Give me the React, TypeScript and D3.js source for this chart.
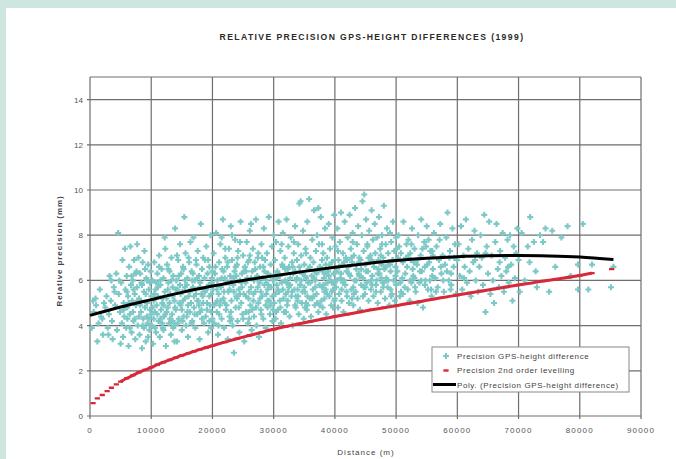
import React from "react";
import * as d3 from "d3";

const W = 676;
const H = 459;

const chartTitle = "RELATIVE PRECISION GPS-HEIGHT DIFFERENCES (1999)";
const xTitle = "Distance (m)";
const yTitle = "Relative precision (mm)";
const seriesNames = [
  "Precision GPS-height difference",
  "Precision 2nd order levelling",
  "Poly. (Precision GPS-height difference)",
];

const xTicks = [0, 10000, 20000, 30000, 40000, 50000, 60000, 70000, 80000, 90000];
const yTicks = [0, 2, 4, 6, 8, 10, 12, 14];

// GPS-height precision, pairs of [distance km, precision mm], grouped by distance band
const gps0to10 = [
  0.3,3.9, 0.6,4.6, 0.9,5.2, 1.2,3.3, 1.4,4.1, 1.6,5.6, 1.8,4.4, 2.1,3.6, 2.3,5.0, 2.5,4.8, 2.7,5.3, 2.9,3.9,
  3.1,4.5, 3.2,6.2, 3.4,5.1, 3.6,4.2, 3.7,3.4, 3.9,5.7, 4.1,4.9, 4.3,6.3, 4.4,3.8, 4.6,8.1, 4.7,5.4, 4.9,4.6,
  5.0,3.2, 1.0,4.9, 2.0,4.3, 3.0,3.6, 4.0,5.5, 4.8,6.0, 0.5,5.1, 3.5,6.0,
  5.1,5.9, 5.2,4.1, 5.3,6.9, 5.4,3.5, 5.5,5.0, 5.6,4.4, 5.7,7.4, 5.8,5.6, 5.9,3.9, 6.0,6.2, 6.1,4.8, 6.2,5.3,
  6.3,3.1, 6.4,6.6, 6.5,4.5, 6.6,7.5, 6.7,5.8, 6.8,3.7, 6.9,5.1, 7.0,6.0, 7.1,4.2, 7.2,6.9, 7.3,5.4, 7.4,3.4,
  7.5,4.9, 7.6,6.4, 7.7,5.7, 7.8,4.0, 7.9,7.0, 8.0,5.2, 8.1,3.6, 8.2,6.3, 8.3,4.6, 8.4,5.9, 8.5,3.0, 8.6,6.8,
  8.7,4.3, 8.8,5.5, 8.9,7.3, 9.0,4.8, 9.1,3.3, 9.2,6.1, 9.3,5.0, 9.4,4.1, 9.5,6.7, 9.6,5.6, 9.7,3.8, 9.8,4.7,
  9.9,6.4, 10.0,5.3, 5.5,4.7, 6.0,5.5, 6.5,3.9, 7.0,4.6, 7.5,6.3, 8.0,4.4, 8.5,5.8, 9.0,6.5, 9.5,3.5, 10.0,4.5,
  5.8,4.9, 6.8,6.2, 7.8,5.1, 8.8,3.9, 9.8,5.9, 6.3,5.0, 7.3,4.3, 8.3,5.1, 9.3,4.4, 7.7,7.6,
];
const gps10to20 = [
  10.1,4.0, 10.2,6.0, 10.3,3.2, 10.4,5.1, 10.5,6.8, 10.6,4.6, 10.7,5.6, 10.8,3.7, 10.9,4.9, 11.0,6.3, 11.1,5.3,
  11.2,4.2, 11.3,7.1, 11.4,3.5, 11.5,5.8, 11.6,4.7, 11.7,6.5, 11.8,5.0, 11.9,3.9, 12.0,6.1, 12.1,4.4, 12.2,5.5,
  12.3,7.4, 12.4,3.1, 12.5,5.2, 12.6,6.7, 12.7,4.8, 12.8,5.9, 12.9,4.1, 13.0,6.4, 13.1,5.4, 13.2,3.6, 13.3,7.0,
  13.4,4.5, 13.5,5.7, 13.6,6.2, 13.7,4.0, 13.8,5.1, 13.9,8.3, 14.0,4.7, 14.1,6.0, 14.2,3.3, 14.3,5.6, 14.4,6.9,
  14.5,4.3, 14.6,5.0, 14.7,7.6, 14.8,4.9, 14.9,6.3, 15.0,3.8, 15.1,5.5, 15.2,6.6, 15.3,4.4, 15.4,8.8, 15.5,5.2,
  15.6,7.2, 15.7,4.0, 15.8,5.8, 15.9,6.1, 16.0,3.5, 16.1,5.3, 16.2,6.8, 16.3,4.6, 16.4,7.7, 16.5,5.0, 16.6,6.4,
  16.7,4.2, 16.8,5.7, 16.9,7.9, 17.0,4.8, 17.1,6.0, 17.2,3.9, 17.3,5.4, 17.4,6.7, 17.5,4.5, 17.6,7.3, 17.7,5.1,
  17.8,6.2, 17.9,3.4, 18.0,5.9, 18.1,8.5, 18.2,4.7, 18.3,6.5, 18.4,5.3, 18.5,7.0, 18.6,4.1, 18.7,5.6, 18.8,6.9,
  18.9,4.4, 19.0,7.5, 19.1,5.0, 19.2,6.3, 19.3,3.7, 19.4,5.8, 19.5,6.6, 19.6,4.9, 19.7,8.0, 19.8,5.4, 19.9,6.1,
  20.0,4.3, 10.5,5.4, 11.0,4.5, 11.5,6.0, 12.0,3.8, 12.5,4.6, 13.0,5.0, 13.5,4.2, 14.0,5.6, 14.5,6.2, 15.0,4.7,
  15.5,6.0, 16.0,4.9, 16.5,5.6, 17.0,5.3, 17.5,6.1, 18.0,4.6, 18.5,5.0, 19.0,5.6, 19.5,4.2, 20.0,6.4, 10.8,5.9,
  11.8,4.1, 12.8,6.5, 13.8,3.3, 14.8,5.4, 15.8,4.4, 16.8,6.3, 17.8,4.9, 18.8,5.5, 19.8,4.6, 12.2,7.9, 14.2,7.1,
];
const gps20to30 = [
  20.1,5.6, 20.2,7.2, 20.3,4.1, 20.4,6.3, 20.5,5.0, 20.6,8.1, 20.7,4.6, 20.8,6.0, 20.9,3.6, 21.0,5.4, 21.1,6.8,
  21.2,4.9, 21.3,7.6, 21.4,5.7, 21.5,4.3, 21.6,6.5, 21.7,8.7, 21.8,5.2, 21.9,3.9, 22.0,6.1, 22.1,7.0, 22.2,4.7,
  22.3,5.9, 22.4,6.6, 22.5,3.4, 22.6,5.5, 22.7,7.4, 22.8,4.4, 22.9,6.2, 23.0,8.4, 23.1,5.1, 23.2,6.9, 23.3,4.0,
  23.4,5.8, 23.5,2.8, 23.6,6.4, 23.7,7.8, 23.8,4.8, 23.9,5.3, 24.0,6.7, 24.1,4.2, 24.2,7.3, 24.3,5.6, 24.4,3.7,
  24.5,6.0, 24.6,8.6, 24.7,5.0, 24.8,6.3, 24.9,4.5, 25.0,7.1, 25.1,5.4, 25.2,3.3, 25.3,6.6, 25.4,5.9, 25.5,4.6,
  25.6,7.7, 25.7,6.1, 25.8,4.1, 25.9,5.2, 26.0,6.9, 26.1,8.2, 26.2,4.9, 26.3,5.7, 26.4,3.8, 26.5,6.4, 26.6,7.4,
  26.7,5.1, 26.8,4.4, 26.9,6.8, 27.0,5.5, 27.1,8.7, 27.2,4.0, 27.3,6.2, 27.4,7.0, 27.5,5.0, 27.6,3.5, 27.7,5.9,
  27.8,6.6, 27.9,4.7, 28.0,7.6, 28.1,5.3, 28.2,6.1, 28.3,4.3, 28.4,8.3, 28.5,5.8, 28.6,6.9, 28.7,3.9, 28.8,5.4,
  28.9,7.2, 29.0,4.8, 29.1,6.3, 29.2,8.8, 29.3,5.1, 29.4,4.5, 29.5,6.7, 29.6,5.7, 29.7,7.5, 29.8,4.2, 29.9,6.0,
  30.0,8.0, 20.5,6.6, 21.0,4.0, 21.5,7.9, 22.0,5.0, 22.5,6.8, 23.0,4.6, 23.5,6.1, 24.0,5.2, 24.5,7.7, 25.0,4.3,
  25.5,6.4, 26.0,5.5, 26.5,4.7, 27.0,6.5, 27.5,7.2, 28.0,4.5, 28.5,6.4, 29.0,5.6, 29.5,4.9, 30.0,6.2, 20.8,5.1,
  21.8,6.4, 22.8,5.6, 23.8,6.6, 24.8,5.7, 25.8,6.8, 26.8,6.0, 27.8,5.2, 28.8,6.0, 29.8,5.3, 23.2,8.0, 26.3,8.5,
];
const gps30to40 = [
  30.1,5.0, 30.2,6.9, 30.3,4.3, 30.4,7.7, 30.5,5.8, 30.6,6.4, 30.7,4.7, 30.8,8.6, 30.9,5.5, 31.0,6.2, 31.1,7.3,
  31.2,4.1, 31.3,5.9, 31.4,6.7, 31.5,8.1, 31.6,5.2, 31.7,4.6, 31.8,7.0, 31.9,6.0, 32.0,5.4, 32.1,8.7, 32.2,4.9,
  32.3,6.5, 32.4,7.5, 32.5,5.7, 32.6,4.4, 32.7,6.1, 32.8,7.9, 32.9,5.3, 33.0,6.8, 33.1,4.0, 33.2,6.3, 33.3,7.2,
  33.4,5.6, 33.5,8.4, 33.6,4.8, 33.7,6.0, 33.8,6.9, 33.9,5.1, 34.0,7.6, 34.1,4.5, 34.2,6.6, 34.3,5.8, 34.4,9.5,
  34.5,7.1, 34.6,5.0, 34.7,6.3, 34.8,8.2, 34.9,4.3, 35.0,6.7, 35.1,5.5, 35.2,7.4, 35.3,6.1, 35.4,4.7, 35.5,8.6,
  35.6,5.9, 35.7,6.5, 35.8,9.6, 35.9,5.2, 36.0,7.0, 36.1,4.4, 36.2,6.2, 36.3,7.8, 36.4,5.6, 36.5,6.8, 36.6,9.1,
  36.7,4.9, 36.8,6.0, 36.9,7.3, 37.0,5.4, 37.1,8.0, 37.2,6.4, 37.3,4.6, 37.4,7.6, 37.5,5.8, 37.6,6.6, 37.7,8.8,
  37.8,5.1, 37.9,6.9, 38.0,4.8, 38.1,7.2, 38.2,6.1, 38.3,5.5, 38.4,8.3, 38.5,6.7, 38.6,4.5, 38.7,7.0, 38.8,5.9,
  38.9,6.4, 39.0,8.5, 39.1,5.3, 39.2,7.4, 39.3,6.0, 39.4,4.9, 39.5,6.8, 39.6,7.9, 39.7,5.6, 39.8,6.3, 39.9,8.9,
  40.0,5.2, 30.5,6.1, 31.0,5.1, 31.5,6.6, 32.0,4.6, 32.5,6.6, 33.0,5.5, 33.5,6.4, 34.0,5.3, 34.5,6.0, 35.0,5.7,
  35.5,4.9, 36.0,5.9, 36.5,5.3, 37.0,6.3, 37.5,4.9, 38.0,6.4, 38.5,5.6, 39.0,6.2, 39.5,5.5, 40.0,6.9, 30.7,5.6,
  32.3,5.5, 33.8,6.1, 35.3,5.0, 36.8,5.7, 38.3,5.2, 39.8,5.9, 34.2,9.4, 37.3,9.2,
];
const gps40to50 = [
  40.1,7.5, 40.2,5.7, 40.3,6.4, 40.4,8.3, 40.5,4.8, 40.6,6.9, 40.7,5.4, 40.8,7.7, 40.9,6.1, 41.0,9.0, 41.1,5.1,
  41.2,6.7, 41.3,7.2, 41.4,4.6, 41.5,6.0, 41.6,8.6, 41.7,5.8, 41.8,7.0, 41.9,6.4, 42.0,5.3, 42.1,7.9, 42.2,6.6,
  42.3,5.0, 42.4,8.9, 42.5,6.2, 42.6,7.4, 42.7,5.6, 42.8,6.8, 42.9,8.1, 43.0,4.9, 43.1,7.1, 43.2,6.0, 43.3,9.2,
  43.4,5.5, 43.5,6.5, 43.6,7.6, 43.7,5.2, 43.8,8.4, 43.9,6.3, 44.0,7.0, 44.1,4.7, 44.2,6.9, 44.3,5.8, 44.4,8.0,
  44.5,9.5, 44.6,6.1, 44.7,7.3, 44.8,9.8, 44.9,5.4, 45.0,6.7, 45.1,8.7, 45.2,5.9, 45.3,7.5, 45.4,6.4, 45.5,5.1,
  45.6,8.2, 45.7,6.8, 45.8,7.1, 45.9,5.6, 46.0,9.1, 46.1,6.2, 46.2,7.8, 46.3,5.3, 46.4,6.6, 46.5,8.5, 46.6,7.2,
  46.7,5.8, 46.8,6.0, 46.9,7.9, 47.0,5.0, 47.1,6.9, 47.2,8.8, 47.3,6.3, 47.4,7.4, 47.5,5.5, 47.6,6.7, 47.7,8.0,
  47.8,5.9, 47.9,7.0, 48.0,9.3, 48.1,6.5, 48.2,5.2, 48.3,7.6, 48.4,6.1, 48.5,8.3, 48.6,5.7, 48.7,7.2, 48.8,6.8,
  48.9,4.9, 49.0,8.1, 49.1,6.4, 49.2,7.7, 49.3,5.4, 49.4,6.9, 49.5,8.6, 49.6,6.0, 49.7,7.3, 49.8,5.1, 49.9,6.6,
  50.0,7.9, 41.0,6.3, 42.0,6.9, 43.0,5.7, 44.0,6.2, 45.0,5.7, 46.0,6.9, 47.0,6.3, 48.0,5.9, 49.0,6.7, 50.0,5.8,
];
const gps50to60 = [
  50.2,6.4, 50.4,8.0, 50.6,5.3, 50.8,7.2, 51.0,6.1, 51.2,8.6, 51.4,5.7, 51.6,7.0, 51.8,6.6, 52.0,7.8, 52.2,5.1,
  52.4,6.9, 52.6,8.3, 52.8,6.2, 53.0,7.4, 53.2,5.5, 53.4,6.7, 53.6,8.0, 53.8,5.9, 54.0,7.1, 54.2,6.4, 54.4,4.8,
  54.6,7.7, 54.8,6.0, 55.0,8.4, 55.2,5.6, 55.4,6.8, 55.6,7.3, 55.8,5.3, 56.0,6.5, 56.2,8.1, 56.4,6.1, 56.6,7.5,
  56.8,5.7, 57.0,6.9, 57.2,8.5, 57.4,6.3, 57.6,7.1, 57.8,5.5, 58.0,6.7, 58.2,7.9, 58.4,9.0, 58.6,6.0, 58.8,7.3,
  59.0,5.8, 59.2,8.3, 59.4,6.6, 59.6,7.6, 59.8,5.4, 60.0,6.9, 50.5,7.5, 51.1,5.4, 51.7,7.6, 52.3,6.0, 52.9,6.8,
  53.5,5.0, 54.1,8.7, 54.7,6.6, 55.3,7.8, 55.9,6.2, 56.5,5.5, 57.1,7.8, 57.7,6.0, 58.3,6.4, 58.9,5.6, 59.5,7.0,
  53.0,6.1, 56.0,7.1, 59.0,6.3, 52.0,7.1,
];
const gps60to86 = [
  60.2,7.6, 60.4,6.2, 60.6,8.4, 60.8,5.6, 61.0,7.1, 61.2,6.6, 61.4,8.7, 61.6,5.9, 61.8,7.4, 62.0,6.4, 62.2,5.3,
  62.4,7.8, 62.6,6.8, 62.8,8.2, 63.0,6.0, 63.2,7.2, 63.4,5.5, 63.6,6.6, 63.8,8.0, 64.0,7.0, 64.2,5.8, 64.4,8.9,
  64.6,4.6, 64.8,7.5, 65.0,6.3, 65.2,8.6, 65.4,5.4, 65.6,7.1, 65.8,6.0, 66.0,5.0, 66.2,7.7, 66.4,8.5, 66.6,6.5,
  66.8,5.7, 67.0,7.3, 67.2,6.2, 67.4,8.1, 67.6,5.5, 67.8,7.0, 68.0,6.4, 68.2,7.8, 68.4,5.9, 68.6,8.0, 68.8,6.7,
  69.0,5.1, 69.2,7.5, 69.4,6.1, 69.6,7.2, 69.8,8.3, 70.0,6.9,
  70.5,8.1, 71.0,6.0, 71.5,7.5, 71.9,8.8, 72.5,7.7, 73.0,5.7, 73.5,8.0, 74.0,7.7, 74.4,8.3, 75.0,5.5, 75.5,8.2,
  76.0,6.6, 77.0,7.9, 78.0,8.4, 78.5,6.2, 79.7,5.6, 79.7,6.7, 80.5,8.5, 81.4,5.6, 82.0,6.7, 85.1,5.7, 85.5,6.6,
  70.2,5.5, 71.8,6.8, 72.8,6.4,
];
// the densest core of the cloud, 6-56 km
const gpsCore = [
  8.2,4.9, 8.6,4.0, 9.1,5.4, 9.6,4.3, 10.2,4.8, 10.6,3.9, 11.1,5.7, 11.5,4.3, 11.9,5.2, 12.3,4.5, 12.7,5.6,
  13.1,4.3, 13.5,5.3, 13.9,4.8, 14.3,4.1, 14.7,5.8, 15.1,4.2, 15.5,5.7, 15.9,4.6, 16.3,5.5, 16.7,6.0, 17.1,4.5,
  17.5,5.1, 17.9,5.7, 18.3,4.3, 18.7,6.1, 19.1,4.7, 19.5,5.3, 19.9,5.9, 20.3,4.9, 20.7,5.6, 21.1,4.5, 21.5,6.1,
  21.9,5.5, 22.3,4.9, 22.7,5.9, 23.1,4.3, 23.5,5.5, 23.9,6.2, 24.3,4.8, 24.7,5.9, 25.1,6.4, 25.5,5.3, 25.9,4.6,
  26.3,6.1, 26.7,5.4, 27.1,4.8, 27.5,6.1, 27.9,5.5, 28.3,6.6, 28.7,4.9, 29.1,5.8, 29.5,6.2, 29.9,4.7, 30.3,5.4,
  30.7,6.3, 31.1,4.8, 31.5,5.6, 31.9,6.5, 32.3,5.1, 32.7,5.8, 33.1,6.6, 33.5,4.9, 33.9,5.6, 34.3,6.4, 34.7,5.5,
  35.1,6.2, 35.5,5.3, 35.9,6.6, 36.3,5.2, 36.7,6.4, 37.1,5.0, 37.5,6.6, 37.9,5.7, 38.3,6.3, 38.7,5.4, 39.1,6.7,
  39.5,5.9, 39.9,5.1, 40.3,6.0, 40.7,6.6, 41.1,5.6, 41.5,6.8, 41.9,5.5, 42.3,6.3, 42.7,7.0, 43.1,5.4, 43.5,6.0,
  43.9,6.8, 44.3,6.5, 44.7,5.7, 45.1,6.4, 45.5,7.0, 45.9,6.0, 46.3,6.8, 46.7,5.5, 47.1,6.5, 47.5,7.1, 47.9,5.7,
  48.3,6.6, 48.7,6.0, 49.1,5.6, 49.5,6.9, 49.9,6.2, 50.3,7.0, 50.7,5.9, 51.1,6.8, 51.5,6.3, 51.9,5.6, 52.3,7.2,
  52.7,6.5, 53.1,5.7, 53.5,6.9, 53.9,6.4, 54.3,7.4, 54.7,5.8, 55.1,6.7, 55.5,6.0, 55.9,7.3, 16.1,7.0, 19.3,6.9,
  22.1,7.4, 24.1,7.0, 26.1,7.1, 28.1,7.0, 31.3,7.6, 33.3,7.7, 35.3,7.2, 37.9,7.6, 40.5,7.3, 42.9,7.7, 45.3,7.6,
  47.7,7.6, 50.1,7.4, 52.5,7.6, 54.9,7.5, 11.3,6.6, 13.3,6.0, 15.3,6.5, 17.3,6.9, 9.3,6.0, 7.1,5.6, 6.1,4.3,
  10.4,4.3, 12.0,4.9, 13.6,3.9, 15.2,5.1, 16.6,4.1, 18.2,5.4, 19.8,3.9, 21.3,5.1, 22.9,4.2, 24.5,5.4, 26.0,4.3,
  27.4,5.7, 29.0,5.1, 30.4,4.6, 32.1,5.9, 33.6,5.3, 35.1,4.8, 36.6,6.1, 38.1,5.8, 39.7,4.8, 41.3,5.9, 42.8,5.2,
  44.6,5.3, 46.1,5.8, 47.6,6.1, 49.2,5.3, 50.8,5.5, 52.5,5.9, 54.1,6.0, 55.7,5.6, 57.3,6.6, 58.7,7.0, 61.1,6.1,
  62.9,6.9, 64.6,7.2, 66.9,6.8, 68.3,6.6,
];

// 2nd order levelling precision
const levelKm = [
  0.5, 1.2, 2, 2.8, 3.5, 4.3, 5, 6, 7, 8, 9, 10, 11, 12, 13, 14, 15, 16, 17, 18, 19, 20, 22, 24, 26, 28, 30,
  32, 34, 36, 38, 40, 42, 44, 46, 48, 50, 52, 54, 56, 58, 60, 62, 64, 66, 68, 70, 72, 74, 76, 78, 80, 82, 85.2,
];
const levelMm = [
  0.57, 0.78, 0.93, 1.1, 1.25, 1.4, 1.52, 1.67, 1.8, 1.93, 2.04, 2.15, 2.27, 2.38, 2.48, 2.58, 2.68, 2.77, 2.86,
  2.95, 3.03, 3.11, 3.27, 3.42, 3.56, 3.7, 3.84, 3.96, 4.07, 4.18, 4.29, 4.4, 4.5, 4.6, 4.7, 4.79, 4.88, 4.98,
  5.07, 5.17, 5.26, 5.35, 5.44, 5.53, 5.62, 5.71, 5.8, 5.88, 5.97, 6.05, 6.13, 6.22, 6.32, 6.5,
];

// polynomial trend of GPS-height precision
const polyKm = [0, 5, 10, 15, 20, 25, 30, 35, 40, 45, 50, 55, 60, 65, 70, 75, 80, 85.5];
const polyMm = [4.45, 4.82, 5.15, 5.47, 5.75, 6.0, 6.2, 6.4, 6.58, 6.74, 6.88, 6.98, 7.05, 7.09, 7.1, 7.08, 7.03, 6.92];

const teal = "#7cc8c6";
const red = "#d8283a";
const gridColor = "#6e6e6e";
const font = "Liberation Sans, Arial, sans-serif";

const toPairs = (flat: number[]) => {
  const out: [number, number][] = [];
  for (let i = 0; i < flat.length; i += 2) out.push([flat[i] * 1000, flat[i + 1]]);
  return out;
};

export default function App() {
  const x = d3.scaleLinear().domain([0, 90000]).range([90, 641]);
  const y = d3.scaleLinear().domain([0, 15]).range([416, 77]);

  const gps = [gps0to10, gps10to20, gps20to30, gps30to40, gps40to50, gps50to60, gps60to86, gpsCore].flatMap(toPairs);
  const level = levelKm.map((k, i) => [k * 1000, levelMm[i]] as [number, number]);
  const poly = polyKm.map((k, i) => [k * 1000, polyMm[i]] as [number, number]);

  const arm = 3;
  const crossPath = gps
    .map(([d, p]) => {
      const cx = x(d), cy = y(p);
      return `M${cx - arm},${cy}h${arm * 2}M${cx},${cy - arm}v${arm * 2}`;
    })
    .join("");
  const dashPath = level.map(([d, p]) => `M${x(d) - 2.6},${y(p)}h5.2`).join("");

  const levelLine = d3.line<[number, number]>().x((d) => x(d[0])).y((d) => y(d[1])).curve(d3.curveMonotoneX);
  const polyLine = d3.line<[number, number]>().x((d) => x(d[0])).y((d) => y(d[1])).curve(d3.curveMonotoneX);

  const lg = { x: 432, y: 347, w: 197, h: 45 };

  return (
    <svg width={W} height={H} style={{ display: "block", position: "absolute", left: 0, top: 0 }} fontFamily={font}>
      <rect width={W} height={H} fill="#cde6df" />
      <rect x={6} y={8} width={W - 6} height={H - 8} fill="#ffffff" />

      <text x={372} y={40} textAnchor="middle" fontSize={8.6} fontWeight="bold" letterSpacing={1.4} fill="#2a2a2a">
        {chartTitle}
      </text>

      {/* grid */}
      <g stroke={gridColor} strokeWidth={1.2}>
        {xTicks.map((t) => (
          <line key={"gx" + t} x1={x(t)} x2={x(t)} y1={y(15)} y2={y(0) + 3} />
        ))}
        {yTicks.map((t) => (
          <line key={"gy" + t} x1={x(0) - 3} x2={x(90000)} y1={y(t)} y2={y(t)} />
        ))}
        <line x1={x(0)} x2={x(90000)} y1={y(15)} y2={y(15)} />
      </g>

      {/* tick labels */}
      <g fontSize={8} fill="#555">
        {yTicks.map((t) => (
          <text key={"ly" + t} x={83} y={y(t) + 3} textAnchor="end">
            {t}
          </text>
        ))}
        {xTicks.map((t) => (
          <text key={"lx" + t} x={x(t)} y={433} textAnchor="middle" letterSpacing={1.2}>
            {t}
          </text>
        ))}
      </g>

      <text x={366} y={455} textAnchor="middle" fontSize={8} letterSpacing={1} fill="#444">
        {xTitle}
      </text>
      <text
        transform="translate(62,251) rotate(-90)"
        textAnchor="middle"
        fontSize={8}
        fontWeight="bold"
        letterSpacing={0.9}
        fill="#444"
      >
        {yTitle}
      </text>

      {/* series */}
      <path d={crossPath} stroke={teal} strokeWidth={2.1} fill="none" />
      <path
        d={levelLine(level.filter((d) => d[0] >= 5000 && d[0] <= 82000)) || ""}
        stroke={red}
        strokeWidth={3}
        fill="none"
      />
      <path d={dashPath} stroke={red} strokeWidth={2.4} fill="none" />
      <path d={polyLine(poly) || ""} stroke="#000" strokeWidth={3} fill="none" />

      {/* legend */}
      <g>
        <rect x={lg.x} y={lg.y} width={lg.w} height={lg.h} fill="#fff" stroke="#888" strokeWidth={1} />
        <path d={`M${lg.x + 11},${lg.y + 9}h6M${lg.x + 14},${lg.y + 6}v6`} stroke={teal} strokeWidth={2.1} />
        <path d={`M${lg.x + 11.4},${lg.y + 23.5}h5.2`} stroke={red} strokeWidth={2.4} />
        <line x1={lg.x + 1} x2={lg.x + 24} y1={lg.y + 37.5} y2={lg.y + 37.5} stroke="#000" strokeWidth={3} />
        <g fontSize={8} fill="#444" letterSpacing={0.6}>
          {seriesNames.map((n, i) => (
            <text key={n} x={lg.x + 25} y={lg.y + 12 + i * 14.3}>
              {n}
            </text>
          ))}
        </g>
      </g>
    </svg>
  );
}
